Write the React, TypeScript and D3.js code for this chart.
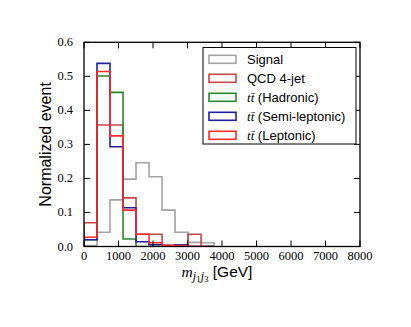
import React, { useEffect, useRef } from "react";
import * as d3 from "d3";

// bin edges (GeV) shared by all samples
const binEdges = [0, 377, 754, 1131, 1508, 1885, 2262, 2639, 3016, 3393, 3770];

const signal = [0.003, 0.042, 0.137, 0.198, 0.246, 0.205, 0.107, 0.042, 0.012, 0.011];
const qcd = [0.07, 0.357, 0.357, 0.143, 0.036, 0.036, 0.004, 0.004, 0.036, 0.0];
const hadronic = [0.02, 0.501, 0.453, 0.022, 0.0, 0.0, 0.0, 0.0, 0.0, 0.0];
const semiLeptonic = [0.02, 0.538, 0.293, 0.114, 0.014, 0.005, 0.002, 0.004, 0.0, 0.0];
const leptonic = [0.027, 0.514, 0.325, 0.107, 0.036, 0.011, 0.003, 0.002, 0.0, 0.0];

const xTicks = [0, 1000, 2000, 3000, 4000, 5000, 6000, 7000, 8000];
const yTicks = [0.0, 0.1, 0.2, 0.3, 0.4, 0.5, 0.6];

const series = [
  { name: "Signal", tt: false, values: signal, color: "#a3a3a3" },
  { name: "QCD 4-jet", tt: false, values: qcd, color: "#c04848" },
  { name: "(Hadronic)", tt: true, values: hadronic, color: "#2a862a" },
  { name: "(Semi-leptonic)", tt: true, values: semiLeptonic, color: "#20209a" },
  { name: "(Leptonic)", tt: true, values: leptonic, color: "#ff2a2a" },
];

const App = () => {
  const ref = useRef<SVGSVGElement | null>(null);

  useEffect(() => {
    const width = 411;
    const height = 327;
    const left = 84, right = 360, top = 42.3, bottom = 246.5;

    const svg = d3.select(ref.current);
    svg.selectAll("*").remove();
    svg.attr("width", width).attr("height", height);

    const x = d3.scaleLinear().domain([0, 8000]).range([left, right]);
    const y = d3.scaleLinear().domain([0, 0.6]).range([bottom, top]);

    svg.append("defs").append("clipPath").attr("id", "plotclip")
      .append("rect").attr("x", left).attr("y", top)
      .attr("width", right - left).attr("height", bottom - top);

    const g = svg.append("g").attr("clip-path", "url(#plotclip)");

    // step outline like matplotlib histtype='step'
    series.forEach((s) => {
      const pts: [number, number][] = [[binEdges[0], 0]];
      s.values.forEach((v, i) => {
        pts.push([binEdges[i], v]);
        pts.push([binEdges[i + 1], v]);
      });
      pts.push([binEdges[binEdges.length - 1], 0]);
      const line = d3.line<[number, number]>()
        .x(d => x(d[0]))
        .y(d => y(d[1]));
      g.append("path")
        .attr("d", line(pts))
        .attr("fill", "none")
        .attr("stroke", s.color)
        .attr("stroke-width", 1.6)
        .attr("stroke-linejoin", "miter");
    });

    // frame
    svg.append("rect")
      .attr("x", left).attr("y", top)
      .attr("width", right - left).attr("height", bottom - top)
      .attr("fill", "none").attr("stroke", "#000").attr("stroke-width", 1.3);

    const tickLen = 6;
    const serif = "'Liberation Serif', 'DejaVu Serif', serif";
    const sans = "'Liberation Sans', Arial, sans-serif";

    xTicks.forEach((t) => {
      const xp = x(t);
      svg.append("line").attr("x1", xp).attr("x2", xp)
        .attr("y1", bottom).attr("y2", bottom - tickLen)
        .attr("stroke", "#000").attr("stroke-width", 1);
      svg.append("line").attr("x1", xp).attr("x2", xp)
        .attr("y1", top).attr("y2", top + tickLen)
        .attr("stroke", "#000").attr("stroke-width", 1);
      svg.append("text")
        .attr("x", xp).attr("y", 260)
        .attr("text-anchor", "middle")
        .attr("font-family", serif)
        .attr("font-size", "12.5px")
        .text(String(t));
    });

    yTicks.forEach((t) => {
      const yp = y(t);
      svg.append("line").attr("x1", left).attr("x2", left + tickLen)
        .attr("y1", yp).attr("y2", yp)
        .attr("stroke", "#000").attr("stroke-width", 1);
      svg.append("line").attr("x1", right).attr("x2", right - tickLen)
        .attr("y1", yp).attr("y2", yp)
        .attr("stroke", "#000").attr("stroke-width", 1);
      svg.append("text")
        .attr("x", 73).attr("y", yp + 4)
        .attr("text-anchor", "end")
        .attr("font-family", serif)
        .attr("font-size", "12.5px")
        .text(t.toFixed(1));
    });

    // axis labels
    svg.append("text")
      .attr("transform", `translate(51, ${(top + bottom) / 2}) rotate(-90)`)
      .attr("text-anchor", "middle")
      .attr("font-family", sans)
      .attr("font-size", "16px")
      .text("Normalized event");

    const xl = svg.append("text")
      .attr("x", 217).attr("y", 277)
      .attr("text-anchor", "middle")
      .attr("font-size", "15.5px");
    xl.append("tspan").attr("font-family", serif).attr("font-style", "italic").text("m");
    xl.append("tspan").attr("font-family", serif).attr("font-style", "italic")
      .attr("font-size", "12px").attr("dy", 3).text("j");
    xl.append("tspan").attr("font-family", serif)
      .attr("font-size", "9px").attr("dy", 2).text("1");
    xl.append("tspan").attr("font-family", serif).attr("font-style", "italic")
      .attr("font-size", "12px").attr("dy", -2).text("j");
    xl.append("tspan").attr("font-family", serif)
      .attr("font-size", "9px").attr("dy", 2).text("3");
    xl.append("tspan").attr("font-family", sans)
      .attr("dy", -5).text("\u00a0[GeV]");

    // legend
    const lg = svg.append("g");
    lg.append("rect")
      .attr("x", 203).attr("y", 47.5)
      .attr("width", 153).attr("height", 96.5)
      .attr("fill", "#fff").attr("stroke", "#000").attr("stroke-width", 1);
    series.forEach((s, i) => {
      const cy = 59.3 + i * 19;
      lg.append("rect")
        .attr("x", 209).attr("y", cy - 4)
        .attr("width", 27).attr("height", 8)
        .attr("fill", "none").attr("stroke", s.color).attr("stroke-width", 1.6);
      const t = lg.append("text")
        .attr("x", 247).attr("y", cy + 4.5)
        .attr("font-family", sans)
        .attr("font-size", "13px");
      if (s.tt) {
        t.append("tspan").attr("font-family", serif).attr("font-style", "italic").text("t");
        t.append("tspan").attr("font-family", serif).attr("font-style", "italic").text("t\u0304");
        t.append("tspan").text(" " + s.name);
      } else {
        t.text(s.name);
      }
    });
  }, []);

  return <svg ref={ref} style={{ display: "block", margin: "-8px" }}></svg>;
};

export default App;
